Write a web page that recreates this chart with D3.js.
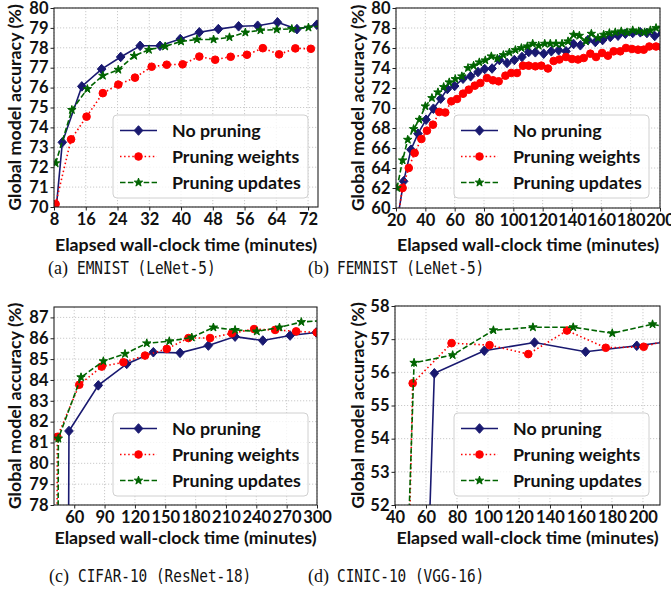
<!DOCTYPE html>
<html><head><meta charset="utf-8">
<script src="https://cdn.jsdelivr.net/npm/d3@7/dist/d3.min.js"></script>
<style>body{margin:0;background:#fff}svg{display:block}</style>
</head><body><svg id="chart" width="671" height="593"></svg>
<script>
// ---------- DATA (time in minutes, accuracy in %) ----------
const seriesNames = ["No pruning", "Pruning weights", "Pruning updates"];

// (a) EMNIST (LeNet-5)
const emnistNoPruning = [[8.4,69.6],[10.1,73.25],[15,76.06],[20,76.93],[24.8,77.54],[29.7,78.1],[34.7,78.1],[39.8,78.44],[44.6,78.78],[49.4,78.94],[54.5,79.08],[59.3,79.11],[64.3,79.28],[69.2,78.94],[74.2,79.16]];
const emnistPruneWeights = [[8.4,70.15],[12.3,73.4],[16.2,74.54],[20.3,75.72],[24.2,76.15],[28.4,76.5],[32.6,77.05],[36.4,77.15],[40.4,77.17],[44.6,77.56],[48.6,77.4],[52.5,77.55],[56.6,77.65],[60.6,77.98],[64.7,77.67],[68.8,77.97],[72.7,77.95]];
const emnistPruneUpdates = [[8.4,72.2],[12.5,74.88],[16.4,75.93],[20.3,76.6],[24.2,76.9],[28.2,77.6],[31.9,77.9],[36,78.07],[40,78.32],[44,78.42],[48.2,78.42],[52.2,78.53],[56.2,78.77],[60,78.88],[64.1,78.92],[67.9,78.95],[72.1,79.02],[76,79.12]];

// (b) FEMNIST (LeNet-5)
const femnistNoPruning = [[20.2,58.1],[25.2,62.67],[30.2,65.83],[35,67.43],[40.5,68.83],[45.5,69.93],[50.5,70.93],[55,71.9],[60,72.2],[65.7,72.93],[70.9,73.17],[75.9,73.6],[80.5,73.9],[85.5,73.95],[90.5,74.8],[95.7,74.5],[100.7,74.8],[105.9,75.1],[110.5,75.6],[115,75.57],[120.7,75.43],[125.9,75.67],[130.9,75.77],[135.9,75.67],[141.1,76.4],[145.7,76.27],[150.9,76.8],[155.9,76.6],[160.9,76.8],[166.1,77.1],[171.4,77.23],[176.4,77.43],[181.4,77.5],[186.6,77.57],[191.1,77.5],[196.4,77.2],[201.3,77.45]];
const femnistPruneWeights = [[20.4,58.3],[24.5,62.0],[28.7,64.0],[32.7,65.5],[37.3,66.9],[41.1,67.73],[45.2,68.33],[49.5,69.6],[53.6,69.55],[57.7,70.67],[61.6,70.9],[65.7,71.43],[69.6,71.83],[73.7,72.23],[77.5,72.5],[82,73.0],[86.1,72.77],[90,72.67],[94.6,73.23],[98.6,73.5],[102.5,73.5],[106.6,74.23],[110.5,74.23],[115,74.17],[119.1,74.23],[123.6,73.95],[127.5,74.7],[131.4,74.85],[135.9,75.1],[140,74.9],[144.1,74.85],[148,75.0],[152.5,75.43],[156.4,75.1],[160.5,75.5],[164.5,75.23],[168.4,75.67],[172.9,75.67],[176.8,76.0],[180.9,75.9],[185,75.83],[188.9,75.83],[192.7,76.15],[197.3,76.15],[201.3,76.1]];
const femnistPruneUpdates = [[20.7,62.0],[24.5,64.77],[28,66.83],[32,67.9],[35.9,68.83],[40,70.17],[44.5,71.0],[48.6,71.57],[52.5,72.1],[56.3,72.57],[60.4,72.9],[64.9,73.17],[69.1,74.0],[72.9,74.23],[76.8,74.57],[80.9,74.77],[85,75.17],[89.1,74.95],[93.2,75.3],[97.3,75.55],[101.4,75.8],[105.5,76.0],[109.6,76.17],[113.2,76.43],[117.3,76.23],[121.4,76.43],[125.2,76.43],[129.1,76.43],[133.2,76.43],[137.3,76.67],[141.1,77.33],[145,77.23],[149.5,76.67],[153.2,77.43],[157.7,77.0],[161.6,77.33],[165.5,77.5],[169.5,77.57],[173.6,77.67],[177.5,77.57],[181.4,77.77],[185.5,77.67],[189.5,77.57],[193.4,77.77],[197.3,78.0],[201.4,78.05]];

// (c) CIFAR-10 (ResNet-18)
const cifarNoPruning = [[53.8,70],[54.8,81.55],[83.8,83.74],[111.9,84.77],[138.2,85.33],[164.6,85.3],[192.6,85.65],[219,86.08],[246.4,85.89],[273.4,86.13],[299.2,86.28]];
const cifarPruneWeights = [[42.6,70],[43.3,81.27],[65,83.77],[87.2,84.64],[108.6,84.85],[130,85.17],[151.5,85.49],[172.9,86.01],[194.3,86.01],[215.8,86.24],[237.8,86.44],[258.6,86.4],[279.4,86.33],[299.8,86.28]];
const cifarPruneUpdates = [[43.6,70],[44.3,81.19],[66.7,84.13],[88.8,84.9],[110.2,85.25],[131.7,85.76],[154,85.86],[176.2,86.04],[197.6,86.52],[219,86.4],[240.5,86.33],[262.9,86.52],[284.5,86.78],[306,86.85]];

// (d) CINIC-10 (VGG-16)
const cinicNoPruning = [[61,49.7],[65.4,55.97],[97.6,56.65],[130,56.9],[163,56.62],[196,56.8],[229,57.0]];
const cinicPruneWeights = [[49,50.5],[51.4,55.67],[76.5,56.88],[101,56.82],[126,56.55],[151,57.26],[176,56.74],[200.5,56.77],[225.5,57.1]];
const cinicPruneUpdates = [[47.5,49.5],[52.3,56.29],[77.2,56.52],[103.5,57.27],[129,57.36],[155,57.36],[180.2,57.18],[206.2,57.45],[232,57.2]];

// tick values
const emnistXTicks = [8,16,24,32,40,48,56,64,72];
const emnistYTicks = [70,71,72,73,74,75,76,77,78,79,80];
const femnistXTicks = [20,40,60,80,100,120,140,160,180,200];
const femnistYTicks = [60,62,64,66,68,70,72,74,76,78,80];
const cifarXTicks = [60,90,120,150,180,210,240,270,300];
const cifarYTicks = [78,79,80,81,82,83,84,85,86,87];
const cinicXTicks = [40,60,80,100,120,140,160,180,200];
const cinicYTicks = [52,53,54,55,56,57,58];

// captions
const captionPrefixes = ["(a)", "(b)", "(c)", "(d)"];
const captionTexts = ["EMNIST (LeNet-5)", "FEMNIST (LeNet-5)", "CIFAR-10 (ResNet-18)", "CINIC-10 (VGG-16)"];

const xTitle = "Elapsed wall-clock time (minutes)";
const yTitle = "Global model accuracy (%)";

// ---------- STYLE ----------
const FONT = "Lato, 'Open Sans', sans-serif";
const styles = [
  {color: "#191970", dash: null, marker: "diamond"},
  {color: "#ff0000", dash: "1.5,2.6", marker: "circle"},
  {color: "#006400", dash: "5.5,2.4", marker: "star"}
];

const svg = d3.select("#chart");
const defs = svg.append("defs");

function markerPath(type) {
  if (type === "diamond") return "M0,-4.8L4.3,0L0,4.8L-4.3,0Z";
  if (type === "circle") return d3.symbol(d3.symbolCircle, 46)();
  return d3.symbol(d3.symbolStar, 22)();
}

function drawPanel(p, idx) {
  const x = d3.scaleLinear().domain(p.xDomain).range([p.left, p.right]);
  const y = d3.scaleLinear().domain(p.yDomain).range([p.bottom, p.top]);
  const g = svg.append("g");
  const clipId = "clip" + idx;
  defs.append("clipPath").attr("id", clipId).append("rect")
    .attr("x", p.left).attr("y", p.top)
    .attr("width", p.right - p.left).attr("height", p.bottom - p.top);

  // grid
  const grid = g.append("g").attr("stroke", "#c4c4c4").attr("stroke-width", 0.9).attr("stroke-dasharray", "1.2,1.8");
  grid.selectAll(".gx").data(p.xTicks).join("line")
    .attr("x1", d => x(d)).attr("x2", d => x(d)).attr("y1", p.top).attr("y2", p.bottom);
  grid.selectAll(".gy").data(p.yTicks).join("line")
    .attr("y1", d => y(d)).attr("y2", d => y(d)).attr("x1", p.left).attr("x2", p.right);

  // series
  const plot = g.append("g").attr("clip-path", `url(#${clipId})`);
  const line = d3.line().x(d => x(d[0])).y(d => y(d[1]));
  p.series.forEach((s, i) => {
    const st = styles[i];
    plot.append("path").datum(s).attr("d", line)
      .attr("fill", "none").attr("stroke", st.color).attr("stroke-width", 1.6)
      .attr("stroke-dasharray", st.dash);
    plot.append("g").selectAll("path").data(s).join("path")
      .attr("transform", d => `translate(${x(d[0])},${y(d[1])})`)
      .attr("d", markerPath(st.marker))
      .attr("fill", st.color).attr("stroke", st.color).attr("stroke-width", 1);
  });

  // axes
  const xa = g.append("g").attr("transform", `translate(0,${p.bottom})`)
    .call(d3.axisBottom(x).tickValues(p.xTicks).tickSize(3.5).tickPadding(3).tickFormat(d3.format("d")));
  const ya = g.append("g").attr("transform", `translate(${p.left},0)`)
    .call(d3.axisLeft(y).tickValues(p.yTicks).tickSize(3.5).tickPadding(2).tickFormat(d3.format("d")));
  [xa, ya].forEach(a => {
    a.select(".domain").remove();
    a.selectAll("line").attr("stroke", "#222");
    a.selectAll("text").attr("font-family", FONT).attr("font-weight", 700)
      .attr("font-size", 16.5).attr("fill", "#111");
  });
  // spines
  g.append("rect").attr("x", p.left).attr("y", p.top)
    .attr("width", p.right - p.left).attr("height", p.bottom - p.top)
    .attr("fill", "none").attr("stroke", "#222").attr("stroke-width", 1.1);

  // titles
  g.append("text").attr("x", (p.left + p.right) / 2).attr("y", p.xTitleY)
    .attr("text-anchor", "middle").attr("font-family", FONT).attr("font-weight", 700)
    .attr("font-size", 17.8).attr("fill", "#111").text(xTitle);
  g.append("text").attr("transform", `translate(${p.yTitleX},${(p.top + p.bottom) / 2}) rotate(-90)`)
    .attr("text-anchor", "middle").attr("font-family", FONT).attr("font-weight", 700)
    .attr("font-size", 17.8).attr("fill", "#111").text(yTitle);

  // legend
  const lg = g.append("g").attr("transform", `translate(${p.legend[0]},${p.legend[1]})`);
  lg.append("rect").attr("width", 195).attr("height", 83).attr("rx", 4)
    .attr("fill", "#fff").attr("fill-opacity", 0.8).attr("stroke", "#d0d0d0").attr("stroke-width", 1);
  seriesNames.forEach((name, i) => {
    const st = styles[i];
    const yy = 15.5 + i * 26;
    lg.append("line").attr("x1", 7).attr("x2", 44).attr("y1", yy).attr("y2", yy)
      .attr("stroke", st.color).attr("stroke-width", 1.6).attr("stroke-dasharray", st.dash);
    lg.append("path").attr("transform", `translate(25.5,${yy})`).attr("d", markerPath(st.marker))
      .attr("fill", st.color).attr("stroke", st.color);
    lg.append("text").attr("x", 59).attr("y", yy + 6).attr("font-family", FONT)
      .attr("font-weight", 700).attr("font-size", 17.8).attr("fill", "#111").text(name);
  });

  // caption
  const cap = svg.append("g");
  cap.append("text").attr("x", p.caption[0]).attr("y", p.caption[1])
    .attr("font-family", "'Liberation Serif', serif").attr("font-size", 18).attr("fill", "#111")
    .text(captionPrefixes[idx]);
  cap.append("text").attr("transform", `translate(${p.caption[0] + 29},${p.caption[1]}) scale(0.8,1)`)
    .attr("font-family", "'DejaVu Sans Mono', monospace").attr("font-size", 18).attr("fill", "#111")
    .text(captionTexts[idx]);
}

const panels = [
  {xDomain: [8, 74.5], yDomain: [70, 80], xTicks: emnistXTicks, yTicks: emnistYTicks,
   series: [emnistNoPruning, emnistPruneWeights, emnistPruneUpdates],
   left: 54, right: 318, top: 8, bottom: 207, xTitleY: 251, yTitleX: 21, legend: [113, 115], caption: [48, 274]},
  {xDomain: [20, 200], yDomain: [60, 80], xTicks: femnistXTicks, yTicks: femnistYTicks,
   series: [femnistNoPruning, femnistPruneWeights, femnistPruneUpdates],
   left: 396, right: 660, top: 8, bottom: 208, xTitleY: 251, yTitleX: 364, legend: [454, 115], caption: [308, 274]},
  {xDomain: [40, 300], yDomain: [78, 87.5], xTicks: cifarXTicks, yTicks: cifarYTicks,
   series: [cifarNoPruning, cifarPruneWeights, cifarPruneUpdates],
   left: 54, right: 317, top: 307, bottom: 505, xTitleY: 544, yTitleX: 21, legend: [113, 413], caption: [49, 582]},
  {xDomain: [40, 211], yDomain: [52, 58], xTicks: cinicXTicks, yTicks: cinicYTicks,
   series: [cinicNoPruning, cinicPruneWeights, cinicPruneUpdates],
   left: 395, right: 660, top: 306, bottom: 505, xTitleY: 544, yTitleX: 364, legend: [454, 413], caption: [308, 582]}
];
panels.forEach(drawPanel);
</script></body></html>
